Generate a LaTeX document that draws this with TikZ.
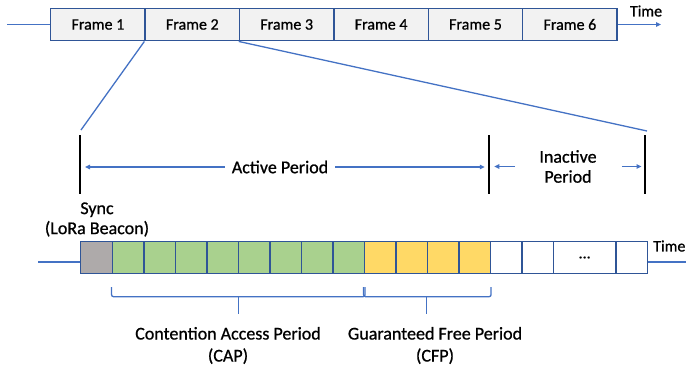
\documentclass[tikz,border=0pt]{standalone}
\usepackage{fontspec}
\setmainfont{Carlito}[FakeBold=0.8]
\usetikzlibrary{arrows.meta}
\definecolor{frameblue}{HTML}{2F5597}
\definecolor{lineblue}{HTML}{4472C4}
\definecolor{framegray}{HTML}{F2F2F2}
\definecolor{syncgray}{HTML}{AEAAAA}
\definecolor{capgreen}{HTML}{A9D18E}
\definecolor{cfpyellow}{HTML}{FFD966}

\begin{document}
\begin{tikzpicture}[x=1pt, y=-1pt]
\tikzset{FrameStyle/.style = {draw=frameblue, fill=framegray, line width=1.5pt, minimum width=94.4pt, minimum height=32.4pt, inner sep=0pt, font=\fontsize{16}{18}\selectfont}}
\tikzset{SlotStyle/.style = {draw=frameblue, line width=1.5pt, minimum width=31.5pt, minimum height=31.6pt, inner sep=0pt}}
\tikzset{LineStyle/.style = {draw=lineblue, line width=1.3pt}}
\tikzset{ArrowStyle/.style = {LineStyle, -{Triangle[length=5pt, width=4.5pt]}}}
\tikzset{BarStyle/.style = {draw=black, line width=2pt}}
\tikzset{LabelStyle/.style = {align=center, font=\fontsize{18}{20}\selectfont}}
\useasboundingbox (0,0) rectangle (686,368);

	% frames on the time line
	\node[FrameStyle] (f1) at (97.9,24.5) {Frame 1};
	\node[FrameStyle] (f2) at (192.3,24.5) {Frame 2};
	\node[FrameStyle] (f3) at (286.7,24.5) {Frame 3};
	\node[FrameStyle] (f4) at (381.1,24.5) {Frame 4};
	\node[FrameStyle] (f5) at (475.5,24.5) {Frame 5};
	\node[FrameStyle] (f6) at (569.9,24.5) {Frame 6};
	\coordinate (in0) at (7,24.5);
	\coordinate (out0) at (661,24.5);
	\draw[LineStyle] (in0) -- (f1.west);
	\draw[ArrowStyle] (f6.east) -- (out0);
	\node[font=\fontsize{16}{18}\selectfont] (time0) at (646,11) {Time};

	% zoom into frame 2
	\coordinate (z1) at (81,130);
	\coordinate (z2) at (647,131);
	\draw[LineStyle] (f2.south west) -- (z1);
	\draw[LineStyle] (f3.south west) -- (z2);

	% period bars
	\coordinate (t1) at (80,135);
	\coordinate (b1) at (80,194);
	\coordinate (t2) at (489.3,135);
	\coordinate (b2) at (489.3,194);
	\coordinate (t3) at (645,135);
	\coordinate (b3) at (645,194);
	\draw[BarStyle] (t1) -- (b1);
	\draw[BarStyle] (t2) -- (b2);
	\draw[BarStyle] (t3) -- (b3);

	\node[LabelStyle, inner sep=7pt] (act) at (280,167) {Active Period};
	\draw[ArrowStyle, shorten >=5pt] (act.west) -- (t1 |- act.west);
	\draw[ArrowStyle, shorten >=4.5pt] (act.east) -- (t2 |- act.east);
	\node[LabelStyle, inner sep=3pt] (inact) at (568,166.5) {Inactive\\Period};
	\draw[ArrowStyle, shorten <=21pt, shorten >=5pt] (inact.west) -- (t2 |- inact.west);
	\draw[ArrowStyle, shorten <=22pt, shorten >=3.5pt] (inact.east) -- (t3 |- inact.east);

	\node[LabelStyle] (sync) at (97,219.5) {Sync\\(LoRa Beacon)};

	% slots of the superframe
	\node[SlotStyle, fill=syncgray, minimum width=31.8pt] (s) at (96.4,257.5) {};
	\node[SlotStyle, fill=capgreen] (c1) at (128.05,257.5) {};
	\node[SlotStyle, fill=capgreen] (c2) at (159.55,257.5) {};
	\node[SlotStyle, fill=capgreen] (c3) at (191.05,257.5) {};
	\node[SlotStyle, fill=capgreen] (c4) at (222.55,257.5) {};
	\node[SlotStyle, fill=capgreen] (c5) at (254.05,257.5) {};
	\node[SlotStyle, fill=capgreen] (c6) at (285.55,257.5) {};
	\node[SlotStyle, fill=capgreen] (c7) at (317.05,257.5) {};
	\node[SlotStyle, fill=capgreen] (c8) at (348.55,257.5) {};
	\node[SlotStyle, fill=cfpyellow] (g1) at (380.05,257.5) {};
	\node[SlotStyle, fill=cfpyellow] (g2) at (411.55,257.5) {};
	\node[SlotStyle, fill=cfpyellow] (g3) at (443.05,257.5) {};
	\node[SlotStyle, fill=cfpyellow] (g4) at (474.55,257.5) {};
	\node[SlotStyle, fill=white] (w1) at (506.05,257.5) {};
	\node[SlotStyle, fill=white] (w2) at (537.55,257.5) {};
	\node[SlotStyle, fill=white, minimum width=62.7pt, font=\fontsize{16}{18}\selectfont] (w3) at (584.65,257.5) {...};
	\node[SlotStyle, fill=white, minimum width=31.3pt] (w4) at (631.65,257.5) {};
	\coordinate (in1) at (38,262);
	\coordinate (out1) at (692,262);
	\draw[LineStyle] (in1) -- (in1 -| s.west);
	\draw[ArrowStyle] (out1 -| w4.east) -- (out1);
	\node[font=\fontsize{16}{18}\selectfont, anchor=west, inner sep=0pt] (time1) at (653,246) {Time};

	% braces for CAP and CFP
	\draw[LineStyle, rounded corners=2pt] (c1.west |- 0,287) -- (c1.west |- 0,296.7) -- (c8.east |- 0,296.7) -- (c8.east |- 0,287);
	\draw[LineStyle] (238.4,296.7) -- (238.4,314);
	\draw[LineStyle, rounded corners=2pt] (g1.west |- 0,287) -- (g1.west |- 0,296.7) -- (g4.east |- 0,296.7) -- (g4.east |- 0,287);
	\draw[LineStyle] (426.5,296.7) -- (426.5,314);

	\node[LabelStyle, font=\fontsize{18}{22}\selectfont] (cap) at (228,345.5) {Contention Access Period\\(CAP)};
	\node[LabelStyle, font=\fontsize{18}{22}\selectfont] (cfp) at (435,345.5) {Guaranteed Free Period\\(CFP)};

\end{tikzpicture}
\end{document}
